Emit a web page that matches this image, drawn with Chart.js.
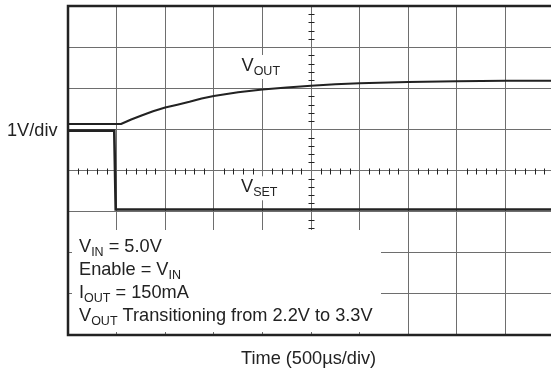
<!DOCTYPE html>
<html>
<head>
<meta charset="utf-8">
<script src="https://cdn.jsdelivr.net/npm/chart.js@4.4.1/dist/chart.umd.min.js"></script>
<style>
  html, body { margin: 0; padding: 0; background: #fff; overflow: hidden; }
  #wrap { position: absolute; left: 0; top: 0; width: 560px; height: 371px; }
</style>
</head>
<body>
<div id="wrap"><canvas id="scope" width="560" height="371"></canvas></div>
<script>
// time base in µs (500µs/div, 10 div), voltage in V (1V/div, 8 div)
const timeUs = [0, 545, 650, 750, 875, 1000, 1125, 1250, 1375, 1500, 1750, 2000, 2250, 2500, 2750, 3000, 3500, 4000, 4500, 5000];
const vOut   = [2.13, 2.13, 2.24, 2.33, 2.44, 2.53, 2.6, 2.67, 2.75, 2.81, 2.9, 2.97, 3.02, 3.06, 3.095, 3.12, 3.15, 3.17, 3.18, 3.18];

const setTimeUs = [0, 476, 491, 5000];
const vSet      = [1.97, 1.97, 0.05, 0.05];

const noteLines = [
  ['V', 'IN', ' = 5.0V'],
  ['Enable = V', 'IN', ''],
  ['I', 'OUT', ' = 150mA'],
  ['V', 'OUT', ' Transitioning from 2.2V to 3.3V']
];
const traceLabels = [
  { t: 1785, v: 3.42, main: 'V', sub: 'OUT' },
  { t: 1780, v: 0.47, main: 'V', sub: 'SET' }
];
const yLabel = '1V/div';
const xLabel = 'Time (500\u00b5s/div)';

const FONT = '"Liberation Sans", Arial, Helvetica, sans-serif';
const MAIN_PX = 18.2;
const SUB_PX = 12.5;
const INK = '#222';

function toPoints(xs, ys) {
  return xs.map((x, i) => ({ x: x, y: ys[i] }));
}

// text with a subscript part, returns end x
function drawSub(ctx, x, y, main, sub, rest) {
  ctx.font = MAIN_PX + 'px ' + FONT;
  ctx.fillText(main, x, y);
  x += ctx.measureText(main).width;
  ctx.font = SUB_PX + 'px ' + FONT;
  ctx.fillText(sub, x, y + 4);
  x += ctx.measureText(sub).width;
  if (rest) {
    ctx.font = MAIN_PX + 'px ' + FONT;
    ctx.fillText(rest, x, y);
    x += ctx.measureText(rest).width;
  }
  return x;
}

const scopeDecor = {
  id: 'scopeDecor',
  beforeDatasetsDraw(chart) {
    const ctx = chart.ctx;
    const xs = chart.scales.x, ys = chart.scales.y;
    const cx = Math.round(xs.getPixelForValue(2500)) + 0.5;
    const cy = Math.round(ys.getPixelForValue(1)) + 0.5;
    ctx.save();
    ctx.strokeStyle = INK;
    ctx.lineWidth = 1;
    ctx.beginPath();
    // minor ticks along the centre lines, 5 per division
    for (let t = 0; t <= 5000; t += 100) {
      if (t % 500 === 0) continue;
      const px = Math.round(xs.getPixelForValue(t)) + 0.5;
      ctx.moveTo(px, cy - 3); ctx.lineTo(px, cy + 3);
    }
    for (let v = -3; v <= 5.001; v += 0.2) {
      if (Math.abs(v - Math.round(v)) < 0.01) continue;
      const py = Math.round(ys.getPixelForValue(v)) + 0.5;
      ctx.moveTo(cx - 3, py); ctx.lineTo(cx + 3, py);
    }
    ctx.stroke();

    // blank panel for the test conditions
    const a = chart.chartArea;
    ctx.fillStyle = '#fff';
    ctx.fillRect(a.left + 4, 230, 381 - a.left - 4, a.bottom - 3 - 230);

    // trace labels on a white patch
    ctx.textBaseline = 'alphabetic';
    ctx.fillStyle = INK;
    traceLabels.forEach(l => {
      const x = xs.getPixelForValue(l.t);
      const y = ys.getPixelForValue(l.v);
      ctx.font = MAIN_PX + 'px ' + FONT;
      let w = ctx.measureText(l.main).width;
      ctx.font = SUB_PX + 'px ' + FONT;
      w += ctx.measureText(l.sub).width;
      ctx.fillStyle = '#fff';
      ctx.fillRect(x - 2, y - 16, w + 4, 24);
      ctx.fillStyle = INK;
      drawSub(ctx, x, y, l.main, l.sub, '');
    });

    noteLines.forEach((ln, i) => {
      drawSub(ctx, 79, 252 + i * 23, ln[0], ln[1], ln[2]);
    });
    ctx.restore();
  },
  afterDraw(chart) {
    const ctx = chart.ctx;
    const a = chart.chartArea;
    ctx.save();
    ctx.strokeStyle = INK;
    ctx.lineWidth = 2.5;
    ctx.beginPath();
    ctx.moveTo(a.right + 5, a.top);
    ctx.lineTo(a.left, a.top);
    ctx.lineTo(a.left, a.bottom);
    ctx.lineTo(a.right + 5, a.bottom);
    ctx.stroke();

    ctx.fillStyle = INK;
    ctx.textBaseline = 'alphabetic';
    ctx.font = MAIN_PX + 'px ' + FONT;
    ctx.textAlign = 'left';
    ctx.fillText(yLabel, 7, 136);
    ctx.fillText(xLabel, 241, 364);
    ctx.restore();
  }
};

new Chart(document.getElementById('scope'), {
  type: 'scatter',
  data: {
    datasets: [
      {
        label: 'VOUT',
        data: toPoints(timeUs, vOut),
        showLine: true,
        borderColor: INK,
        borderWidth: 2,
        borderJoinStyle: 'round',
        pointRadius: 0,
        tension: 0
      },
      {
        label: 'VSET',
        data: toPoints(setTimeUs, vSet),
        showLine: true,
        borderColor: INK,
        borderWidth: 2.6,
        pointRadius: 0,
        tension: 0
      }
    ]
  },
  options: {
    responsive: false,
    animation: false,
    layout: { padding: { left: 68, top: 6, right: 6, bottom: 36 } },
    plugins: {
      legend: { display: false },
      tooltip: { enabled: false }
    },
    scales: {
      x: {
        type: 'linear',
        min: 0,
        max: 5000,
        ticks: { display: false, stepSize: 500 },
        grid: { color: '#6e6e6e', lineWidth: 1, drawTicks: false },
        border: { display: false }
      },
      y: {
        type: 'linear',
        min: -3,
        max: 5,
        ticks: { display: false, stepSize: 1 },
        grid: { color: '#6e6e6e', lineWidth: 1, drawTicks: false },
        border: { display: false }
      }
    }
  },
  plugins: [scopeDecor]
});
</script>
</body>
</html>
